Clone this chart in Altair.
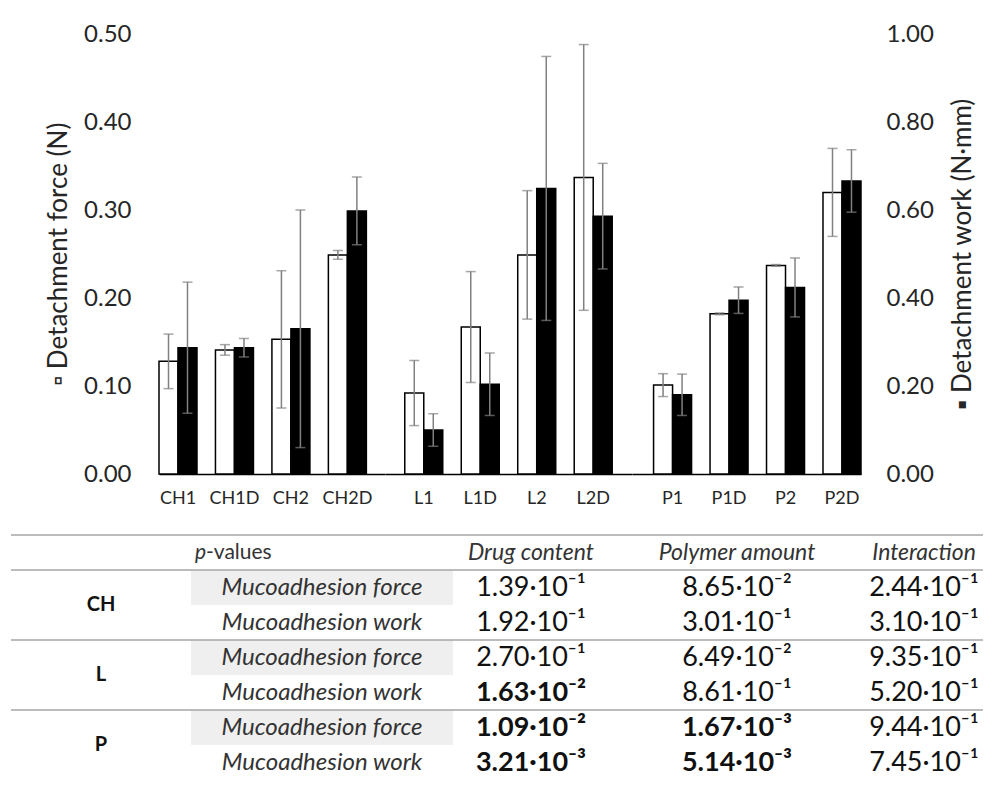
import altair as alt
import pandas as pd
import numpy as np

# ---------------- data: bar chart ----------------
categories = ["CH1", "CH1D", "CH2", "CH2D", "L1", "L1D", "L2", "L2D", "P1", "P1D", "P2", "P2D"]
groups = ["CH"] * 4 + ["L"] * 4 + ["P"] * 4
force_mean = [0.128, 0.141, 0.153, 0.249, 0.092, 0.167, 0.249, 0.337, 0.101, 0.182, 0.237, 0.320]
force_sd = [0.031, 0.006, 0.078, 0.005, 0.037, 0.063, 0.073, 0.151, 0.013, 0.001, 0.001, 0.050]
work_mean = [0.287, 0.287, 0.330, 0.598, 0.100, 0.204, 0.649, 0.586, 0.180, 0.395, 0.424, 0.666]
work_sd = [0.149, 0.021, 0.270, 0.077, 0.037, 0.071, 0.300, 0.120, 0.047, 0.030, 0.067, 0.071]
force_ticks = [0.0, 0.1, 0.2, 0.3, 0.4, 0.5]
work_ticks = [0.0, 0.2, 0.4, 0.6, 0.8, 1.0]

# ---------------- data: p-value table ----------------
table_rows = ["hdr", "CH_f", "CH_w", "L_f", "L_w", "P_f", "P_w"]
table_groups = ["CH", "L", "P"]
metric_names = ["Mucoadhesion force", "Mucoadhesion work"]
factor_names = ["Drug content", "Polymer amount", "Interaction"]
p_drug = [1.39e-1, 1.92e-1, 2.70e-1, 1.63e-2, 1.09e-2, 3.21e-3]
p_polymer = [8.65e-2, 3.01e-1, 6.49e-2, 8.61e-1, 1.67e-3, 5.14e-3]
p_interaction = [2.44e-1, 3.10e-1, 9.35e-1, 5.20e-1, 9.44e-1, 7.45e-1]

FONT = "Lato"
TXT = "#262626"
ERR = "#808080"

# ---------------- build frames ----------------
recs = []
for i, c in enumerate(categories):
    recs.append(dict(cat=c, group=groups[i], series="force", mean=force_mean[i],
                     lower=force_mean[i] - force_sd[i], upper=force_mean[i] + force_sd[i]))
    recs.append(dict(cat=c, group=groups[i], series="work", mean=work_mean[i],
                     lower=work_mean[i] - work_sd[i], upper=work_mean[i] + work_sd[i]))
bars = pd.DataFrame(recs)

SUP = str.maketrans("-0123456789", "⁻⁰¹²³⁴⁵⁶⁷⁸⁹")


def fmt(p):
    e = int(np.floor(np.log10(p)))
    m = p / 10 ** e
    return f"{m:.2f}·10" + str(e).translate(SUP)


data_rows = table_rows[1:]
tv = []
for col, vals in zip(factor_names, [p_drug, p_polymer, p_interaction]):
    for r, v in zip(data_rows, vals):
        tv.append(dict(row=r, col=col, text=fmt(v), bold=bool(v < 0.05)))
tvals = pd.DataFrame(tv)
metrics_df = pd.DataFrame(dict(row=data_rows, text=metric_names * 3, kind=["f", "w"] * 3))
groups_df = pd.DataFrame(dict(row=[g + "_w" for g in table_groups], text=table_groups))
rules_df = pd.DataFrame(dict(row=["hdr", "CH_f", "L_f", "P_f"]))
hdr_df = pd.DataFrame(dict(row=["hdr"] * 3, col=factor_names))

PH = 440  # plot height
fs = alt.Scale(domain=[0, 0.5], nice=False)
ws = alt.Scale(domain=[0, 1], nice=False)

# ---------------- left axis panel ----------------
AXW = 148
left_axis = alt.Axis(values=force_ticks, format=".2f", orient="left", offset=-AXW, domain=False,
                     ticks=False, grid=False, labelFont=FONT, labelFontSize=24, labelColor=TXT,
                     labelPadding=28, title="▫ Detachment force (N)", titleFont=FONT,
                     titleFontSize=26, titleFontWeight="normal", titleColor=TXT, titlePadding=12,
                     titleAngle=270)
axis_panel = alt.Chart(bars[bars.series == "force"]).mark_point(opacity=0).encode(
    y=alt.Y("mean:Q", scale=fs, axis=left_axis)
).properties(width=AXW, height=PH)


# ---------------- bar panels ----------------
def panel(g, width, pad_outer, align, side):
    cats = [c for c, gg in zip(categories, groups) if gg == g]
    d = bars[bars.group == g]
    x = alt.X("cat:N", title=None,
              scale=alt.Scale(domain=cats, paddingInner=0.327, paddingOuter=pad_outer, align=align,
                              round=False),
              axis=alt.Axis(labelAngle=0, ticks=False, domainColor="black", domainWidth=1.5,
                            labelFont=FONT, labelFontSize=18, labelColor=TXT, labelPadding=15))
    xo = alt.XOffset("series:N", scale=alt.Scale(domain=["force", "work"], paddingInner=0,
                                                 paddingOuter=0, round=False))
    if side == "right":
        waxis = alt.Axis(values=work_ticks, format=".2f", orient="right", domain=False, ticks=False,
                         grid=False, labelFont=FONT, labelFontSize=24, labelColor=TXT, labelPadding=25,
                         title="▪ Detachment work (N·mm)", titleFont=FONT, titleFontSize=26,
                         titleFontWeight="normal", titleColor=TXT, titlePadding=16,
                         titleAngle=270, titleBaseline="top")
    else:
        waxis = None
    base = alt.Chart(d)
    f = base.transform_filter("datum.series == 'force'")
    w = base.transform_filter("datum.series == 'work'")
    white = f.mark_bar(fill="white", stroke="black", strokeWidth=1.5).encode(
        x=x, xOffset=xo, y=alt.Y("mean:Q", scale=fs, axis=None))
    werr = f.mark_rule(color=ERR, strokeWidth=1.5).encode(
        x=x, xOffset=xo, y=alt.Y("lower:Q", scale=fs, axis=None), y2="upper:Q")
    wcap = f.transform_fold(["lower", "upper"], as_=["end", "val"]).mark_tick(
        orient="horizontal", size=10, thickness=1.5, color=ERR).encode(
        x=x, xOffset=xo, y=alt.Y("val:Q", scale=fs, axis=None))
    black = w.mark_bar(fill="black", stroke="black", strokeWidth=1.5).encode(
        x=x, xOffset=xo, y=alt.Y("mean:Q", scale=ws, axis=waxis))
    berr = w.mark_rule(color=ERR, strokeWidth=1.5).encode(
        x=x, xOffset=xo, y=alt.Y("lower:Q", scale=ws, axis=None), y2="upper:Q")
    bcap = w.transform_fold(["lower", "upper"], as_=["end", "val"]).mark_tick(
        orient="horizontal", size=10, thickness=1.5, color=ERR).encode(
        x=x, xOffset=xo, y=alt.Y("val:Q", scale=ws, axis=None))
    return alt.layer(white, werr, wcap, black, berr, bcap).resolve_scale(y="independent").properties(
        width=width, height=PH)


top = alt.hconcat(
    axis_panel,
    panel("CH", 226, 0.165, 0.0, "none"),
    panel("L", 247, 0.35, 0.5, "none"),
    panel("P", 229, 0.191, 1.0, "right"),
    spacing=0,
    bounds="flush",
)

# ---------------- table ----------------
TH = 245
yscale = alt.Scale(domain=table_rows, paddingInner=0, paddingOuter=0)


def yrow(bp=None):
    if bp is None:
        return alt.Y("row:N", scale=yscale, axis=None, title=None)
    return alt.Y("row:N", scale=yscale, axis=None, title=None, bandPosition=bp)


def rules():
    return alt.Chart(rules_df).mark_rule(color="#a6a6a6", strokeWidth=1.5).encode(y=yrow(0))


c1 = alt.layer(
    rules(),
    alt.Chart(groups_df).mark_text(font=FONT, fontSize=20, fontWeight="bold", color="#111").encode(
        y=yrow(0), text="text:N"),
).properties(width=180, height=TH)

c2 = alt.layer(
    alt.Chart(metrics_df).transform_filter("datum.kind == 'f'").mark_rect(color="#efefef").encode(y=yrow()),
    rules(),
    alt.Chart(metrics_df).mark_text(font=FONT, fontSize=24, fontStyle="italic", color="#333").encode(
        y=yrow(), text="text:N"),
    alt.Chart(pd.DataFrame(dict(row=["hdr"], text=["p"]))).mark_text(
        font=FONT, fontSize=21, fontStyle="italic", color="#333", align="right", dx=-116).encode(
        y=yrow(), text="text:N"),
    alt.Chart(pd.DataFrame(dict(row=["hdr"], text=["-values"]))).mark_text(
        font=FONT, fontSize=21, color="#333", align="left", dx=-116).encode(
        y=yrow(), text="text:N"),
).properties(width=262, height=TH)


def value_col(name, width):
    return alt.layer(
        rules(),
        alt.Chart(hdr_df).transform_filter(alt.datum.col == name).mark_text(
            font=FONT, fontSize=23, fontStyle="italic", color="#333").encode(y=yrow(), text="col:N"),
        alt.Chart(tvals).transform_filter(alt.datum.col == name).transform_filter("!datum.bold").mark_text(
            font=FONT, fontSize=27, color="#111").encode(y=yrow(), text="text:N"),
        alt.Chart(tvals).transform_filter(alt.datum.col == name).transform_filter("datum.bold").mark_text(
            font=FONT, fontSize=27, fontWeight="bold", color="#111").encode(y=yrow(), text="text:N"),
    ).properties(width=width, height=TH)


table = alt.hconcat(
    c1, c2,
    value_col("Drug content", 156),
    value_col("Polymer amount", 256),
    value_col("Interaction", 118),
    spacing=0,
    bounds="flush",
)

chart = alt.vconcat(top, table, spacing=27).properties(
    padding={"left": 2, "top": 14, "right": 0, "bottom": 0}
).configure(font=FONT).configure_view(strokeWidth=0)

chart.save("out.html", embed_options={"renderer": "svg", "actions": False})
